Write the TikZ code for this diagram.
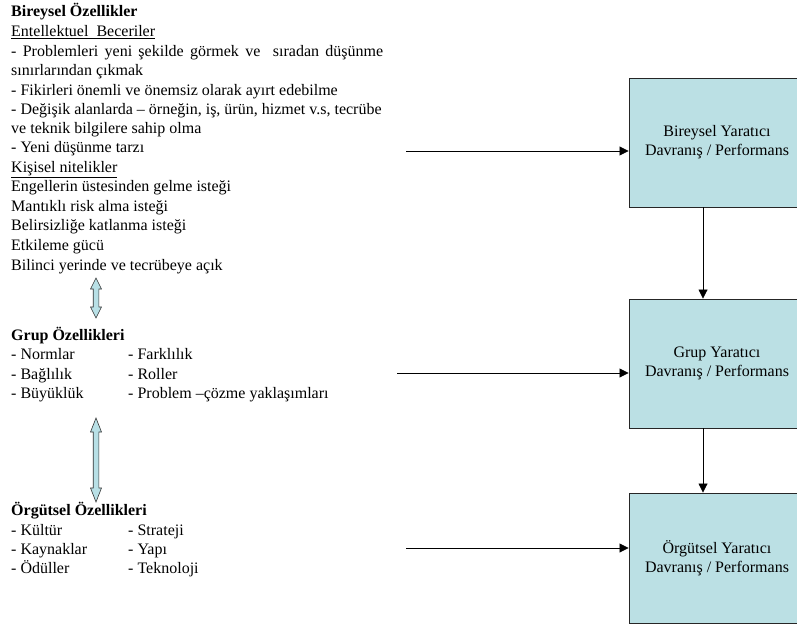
\documentclass[tikz,border=0pt]{standalone}
\usepackage{fontspec}
\setmainfont{Liberation Serif}
\usetikzlibrary{arrows.meta,calc}
\definecolor{boxfill}{RGB}{187,224,228}
\definecolor{arrowfill}{RGB}{184,224,230}
\begin{document}
\begin{tikzpicture}[x=1pt,y=-1pt,
  txt/.style={anchor=base west,inner sep=0pt,font=\fontsize{16}{19}\selectfont},
  outbox/.style={draw=black!85,fill=boxfill,line width=0.9pt,minimum width=176pt,
    inner sep=0pt,align=center,font=\fontsize{16}{19}\selectfont},
  link/.style={-{Triangle[length=9pt,width=9pt]},line width=0.8pt},
  dblarrow/.style={draw=black!80,fill=arrowfill,line width=0.6pt,line join=miter}]
\useasboundingbox (0,0) rectangle (797,628);
\clip (0,0) rectangle (797,628);

% individual characteristics
\node[txt] (i0) at (11,17) {\textbf{Bireysel Özellikler}};
\node[txt] (i1) at (11,36.5) {\underline{Entellektuel\ \ Beceriler}};
\node[txt] (i2) at (11,57) {\makebox[372pt][s]{- Problemleri yeni şekilde görmek ve\ \ sıradan düşünme}};
\node[txt] (i3) at (11,76) {sınırlarından çıkmak};
\node[txt] (i4) at (11,95.5) {- Fikirleri önemli ve önemsiz olarak ayırt edebilme};
\node[txt] (i5) at (11,115) {- Değişik alanlarda – örneğin, iş, ürün, hizmet v.s, tecrübe};
\node[txt] (i6) at (11,133.5) {ve teknik bilgilere sahip olma};
\node[txt] (i7) at (11,152.5) {- Yeni düşünme tarzı};
\node[txt] (i8) at (11,172.5) {\underline{Kişisel nitelikler}};
\node[txt] (i9) at (11,192) {Engellerin üstesinden gelme isteği};
\node[txt] (i10) at (11,211.5) {Mantıklı risk alma isteği};
\node[txt] (i11) at (11,231) {Belirsizliğe katlanma isteği};
\node[txt] (i12) at (11,251) {Etkileme gücü};
\node[txt] (i13) at (11,270.5) {Bilinci yerinde ve tecrübeye açık};

% group characteristics
\node[txt] (g0) at (11,340) {\textbf{Grup Özellikleri}};
\node[txt] (g1) at (11,359) {- Normlar};
\node[txt] (g2) at (11,379) {- Bağlılık};
\node[txt] (g3) at (11,398) {- Büyüklük};
\node[txt] (g4) at (128,359) {- Farklılık};
\node[txt] (g5) at (128,379) {- Roller};
\node[txt] (g6) at (128,398) {- Problem –çözme yaklaşımları};

% organisational characteristics
\node[txt] (o0) at (11,515) {\textbf{Örgütsel Özellikleri}};
\node[txt] (o1) at (11,535) {- Kültür};
\node[txt] (o2) at (11,554) {- Kaynaklar};
\node[txt] (o3) at (11,573) {- Ödüller};
\node[txt] (o4) at (128,535) {- Strateji};
\node[txt] (o5) at (128,554) {- Yapı};
\node[txt] (o6) at (128,573) {- Teknoloji};

% outcome boxes
\node[outbox,minimum height=129pt] (b1) at (717,142.5) {Bireysel Yaratıcı\\Davranış / Performans};
\node[outbox,minimum height=129pt] (b2) at (717,363.5) {Grup Yaratıcı\\Davranış / Performans};
\node[outbox,minimum height=130pt] (b3) at (717,558) {Örgütsel Yaratıcı\\Davranış / Performans};

% horizontal inputs
\coordinate (s1) at (406,151);
\coordinate (s2) at (397,373);
\coordinate (s3) at (406,548);
\draw[link] (s1) -- (s1 -| b1.west);
\draw[link] (s2) -- (s2 -| b2.west);
\draw[link] (s3) -- (s3 -| b3.west);

% vertical links between boxes
\draw[link] ([xshift=-14pt]b1.south) -- ([xshift=-14pt]b2.north);
\draw[link] ([xshift=-14pt]b2.south) -- ([xshift=-14pt]b3.north);

% two-headed block arrows between the characteristic groups
\coordinate (d1t) at (96,278);
\coordinate (d1b) at (96,318);
\coordinate (d2t) at (96,418);
\coordinate (d2b) at (96,502);
\draw[dblarrow] (d1t) -- ($(d1t)+(5.5,11)$) -- ($(d1t)+(2.8,11)$) -- ($(d1b)+(2.8,-11)$)
  -- ($(d1b)+(5.5,-11)$) -- (d1b) -- ($(d1b)+(-5.5,-11)$) -- ($(d1b)+(-2.8,-11)$)
  -- ($(d1t)+(-2.8,11)$) -- ($(d1t)+(-5.5,11)$) -- cycle;
\draw[dblarrow] (d2t) -- ($(d2t)+(5.5,14)$) -- ($(d2t)+(2.8,14)$) -- ($(d2b)+(2.8,-14)$)
  -- ($(d2b)+(5.5,-14)$) -- (d2b) -- ($(d2b)+(-5.5,-14)$) -- ($(d2b)+(-2.8,-14)$)
  -- ($(d2t)+(-2.8,14)$) -- ($(d2t)+(-5.5,14)$) -- cycle;
\end{tikzpicture}
\end{document}
